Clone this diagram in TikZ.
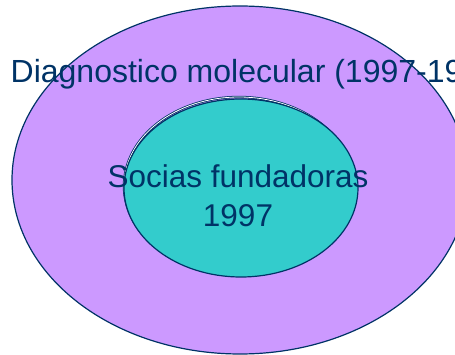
\documentclass[tikz,border=0pt]{standalone}
\usepackage{fontspec}
\setmainfont{Liberation Sans}
\definecolor{lila}{HTML}{CC99FF}
\definecolor{turquesa}{HTML}{33CCCC}
\definecolor{marino}{HTML}{003366}
\tikzset{
  anillo/.style={draw=marino, line width=1.2pt},
  rotulo/.style={text=marino, inner sep=0pt, font=\fontsize{31.5}{36}\selectfont},
}
\begin{document}
\begin{tikzpicture}[x=1pt, y=-1pt]
      \useasboundingbox (0,0) rectangle (455,355);
      \clip (0,0) rectangle (455,355);
      \draw[anillo, fill=lila] (240,180) ellipse [x radius=228, y radius=174];
      \draw[anillo, line width=2.4pt] (239,186) ellipse [x radius=115, y radius=89];
      \draw[white, line width=0.8pt] (239,186) ellipse [x radius=115, y radius=89];
      \draw[anillo, fill=turquesa] (241,188) ellipse [x radius=117, y radius=89];
      \node[rotulo, anchor=base west, font=\fontsize{32}{38}\selectfont] (externo) at (10.5,83) {Diagnostico molecular (1997-19};
      \node[rotulo, anchor=base] (socias) at (238,188) {Socias fundadoras};
      \node[rotulo, anchor=base] (anio) at (238,227) {1997};
    \end{tikzpicture}
\end{document}
